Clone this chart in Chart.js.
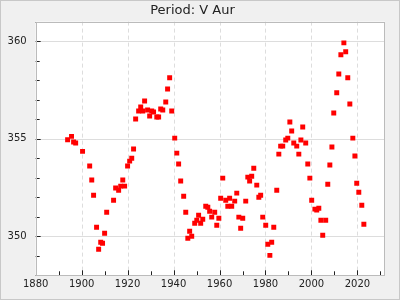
<!DOCTYPE html>
<html><head><meta charset="utf-8">
<script src="https://cdn.jsdelivr.net/npm/chart.js@4.4.0/dist/chart.umd.min.js"></script>
<style>html,body{margin:0;padding:0;background:#f0f0f0;overflow:hidden}</style>
</head><body>
<canvas id="c" width="400" height="300" style="display:block;width:400px;height:300px"></canvas>
<script>
const years = [1893.9,1895.6,1896.5,1897.4,1900.4,1903.5,1904.4,1905.2,1906.5,1907.4,1908.3,1909.1,1910.0,1910.9,1913.9,1914.8,1916.1,1917.0,1917.9,1918.7,1920.0,1920.9,1921.8,1922.6,1923.5,1924.8,1925.7,1926.6,1927.4,1928.7,1929.6,1930.5,1931.3,1932.7,1933.5,1934.4,1935.3,1936.6,1937.4,1938.3,1939.2,1940.5,1941.4,1942.2,1943.1,1944.4,1945.3,1946.2,1947.0,1947.9,1949.2,1950.1,1950.9,1951.8,1952.7,1954.0,1954.9,1955.7,1956.6,1957.9,1958.8,1959.7,1960.5,1961.4,1962.7,1963.6,1964.4,1965.3,1966.6,1967.5,1968.4,1969.2,1970.1,1971.4,1972.3,1973.1,1974.0,1974.9,1976.2,1977.1,1977.9,1978.8,1980.1,1981.0,1981.9,1982.7,1983.6,1984.9,1985.8,1986.6,1987.5,1988.8,1989.7,1990.6,1991.4,1992.3,1993.6,1994.5,1995.4,1996.2,1997.5,1998.4,1999.3,2000.1,2001.5,2002.3,2003.2,2004.1,2004.9,2006.2,2007.1,2008.0,2008.9,2009.7,2011.0,2011.9,2012.8,2014.1,2014.9,2015.8,2016.7,2018.0,2018.9,2019.7,2020.6,2021.9,2022.8];
const periods = [354.95,355.12,354.83,354.78,354.35,353.6,352.88,352.1,350.46,349.33,349.69,349.64,350.15,351.23,351.85,352.47,352.36,352.57,352.88,352.57,353.6,353.85,354.0,354.47,356.01,356.42,356.63,356.42,356.93,356.47,356.16,356.42,356.37,356.11,356.11,356.52,356.47,356.88,357.55,358.12,356.42,355.03,354.26,353.7,352.83,352.05,351.23,349.9,350.26,350.0,350.67,350.82,351.08,350.67,350.87,351.54,351.49,351.28,350.98,351.23,350.56,350.92,351.95,352.98,351.85,351.54,351.95,351.54,351.8,352.21,350.98,350.41,350.92,351.8,353.03,352.83,353.08,353.49,352.62,352.0,352.1,350.98,350.56,349.59,349.02,349.69,350.46,352.36,354.21,354.62,354.62,354.93,355.03,355.86,355.39,354.78,354.62,354.21,354.93,355.6,354.78,353.7,352.98,351.85,351.39,351.34,351.44,350.82,350.05,350.82,352.67,353.65,354.57,356.32,357.35,358.32,359.3,359.91,359.45,358.12,356.78,355.03,354.11,352.72,352.26,351.59,350.62];
const xTickLabels = [1880,1900,1920,1940,1960,1980,2000,2020];
const yTickLabels = [350,355,360];
const xMinorTicks = [1890,1910,1930,1950,1970,1990,2010,2030];
const yMinorTicks = [348,349,351,352,353,354,356,357,358,359,361];
const titleText = 'Period: V Aur';

const FONT = 'DejaVu Sans';
const framePlugin = {
  id: 'frame',
  beforeDraw(chart) {
    const ctx = chart.ctx, a = chart.chartArea;
    ctx.save();
    ctx.fillStyle = '#f0f0f0';
    ctx.fillRect(0, 0, chart.width, chart.height);
    ctx.strokeStyle = '#c8c8c8';
    ctx.lineWidth = 1;
    ctx.strokeRect(0.5, 0.5, chart.width - 1, chart.height - 1);
    ctx.fillStyle = '#ffffff';
    ctx.fillRect(a.left, a.top, a.right - a.left, a.bottom - a.top);
    ctx.restore();
  },
  beforeDatasetsDraw(chart) {
    const ctx = chart.ctx, a = chart.chartArea;
    const xs = chart.scales.x, ys = chart.scales.y;
    ctx.save();
    ctx.lineWidth = 1;
    ctx.strokeStyle = '#dddddd';
    ctx.setLineDash([]);
    yTickLabels.forEach(v => {
      const py = Math.round(ys.getPixelForValue(v)) + 0.5;
      ctx.beginPath(); ctx.moveTo(a.left, py); ctx.lineTo(a.right, py); ctx.stroke();
    });
    ctx.setLineDash([4, 3]);
    xTickLabels.forEach(v => {
      if (v === xs.min) return;
      const px = Math.round(xs.getPixelForValue(v)) + 0.5;
      ctx.beginPath(); ctx.moveTo(px, a.top); ctx.lineTo(px, a.bottom); ctx.stroke();
    });
    ctx.restore();
  },
  afterDatasetsDraw(chart) {
    const ctx = chart.ctx, a = chart.chartArea;
    const xs = chart.scales.x, ys = chart.scales.y;
    ctx.save();
    ctx.setLineDash([]);
    ctx.lineWidth = 1;
    ctx.strokeStyle = '#222222';
    const tickX = (v, len) => {
      const px = Math.round(xs.getPixelForValue(v)) + 0.5;
      ctx.beginPath(); ctx.moveTo(px, a.bottom); ctx.lineTo(px, a.bottom - len); ctx.stroke();
    };
    const tickY = (v, len) => {
      const py = Math.round(ys.getPixelForValue(v)) + 0.5;
      ctx.beginPath(); ctx.moveTo(a.left, py); ctx.lineTo(a.left + len, py); ctx.stroke();
    };
    xTickLabels.forEach(v => tickX(v, 5));
    xMinorTicks.forEach(v => tickX(v, 4));
    yTickLabels.forEach(v => tickY(v, 5));
    yMinorTicks.forEach(v => tickY(v, 4));
    ctx.strokeStyle = '#bbbbbb';
    ctx.strokeRect(Math.round(a.left) + 0.5, Math.round(a.top) + 0.5, Math.round(a.right - a.left) - 1, Math.round(a.bottom - a.top) - 1);
    ctx.restore();
  }
};

new Chart(document.getElementById('c'), {
  type: 'scatter',
  data: {
    datasets: [{
      data: years.map((x, i) => ({ x: x, y: periods[i] })),
      pointStyle: 'rect',
      radius: 3.5,
      hoverRadius: 3.5,
      backgroundColor: '#ff0000',
      borderWidth: 0
    }]
  },
  options: {
    responsive: false,
    animation: false,
    devicePixelRatio: 1,
    layout: { padding: { left: 0, right: 15, top: 0, bottom: 0 } },
    plugins: {
      legend: { display: false },
      tooltip: { enabled: false },
      title: {
        display: true,
        text: titleText,
        color: '#222222',
        font: { family: FONT, size: 13, weight: 'normal' },
        padding: { top: 3, bottom: 3 }
      }
    },
    scales: {
      x: {
        type: 'linear',
        min: 1880,
        max: 2032,
        afterBuildTicks: s => { s.ticks = xTickLabels.map(v => ({ value: v })); },
        afterFit: s => { s.height = 24.7; },
        grid: { display: false, drawTicks: false },
        border: { display: false },
        ticks: {
          autoSkip: false, maxRotation: 0, padding: 3,
          color: '#222222',
          font: { family: FONT, size: 10 },
          callback: v => String(v)
        }
      },
      y: {
        type: 'linear',
        min: 348,
        max: 361,
        afterBuildTicks: s => { s.ticks = yTickLabels.map(v => ({ value: v })); },
        afterFit: s => { s.width = 35.67; },
        grid: { display: false, drawTicks: false },
        border: { display: false },
        ticks: {
          autoSkip: false, padding: 9,
          color: '#222222',
          font: { family: FONT, size: 10 },
          callback: v => String(v)
        }
      }
    }
  },
  plugins: [framePlugin]
});
</script>
</body></html>
